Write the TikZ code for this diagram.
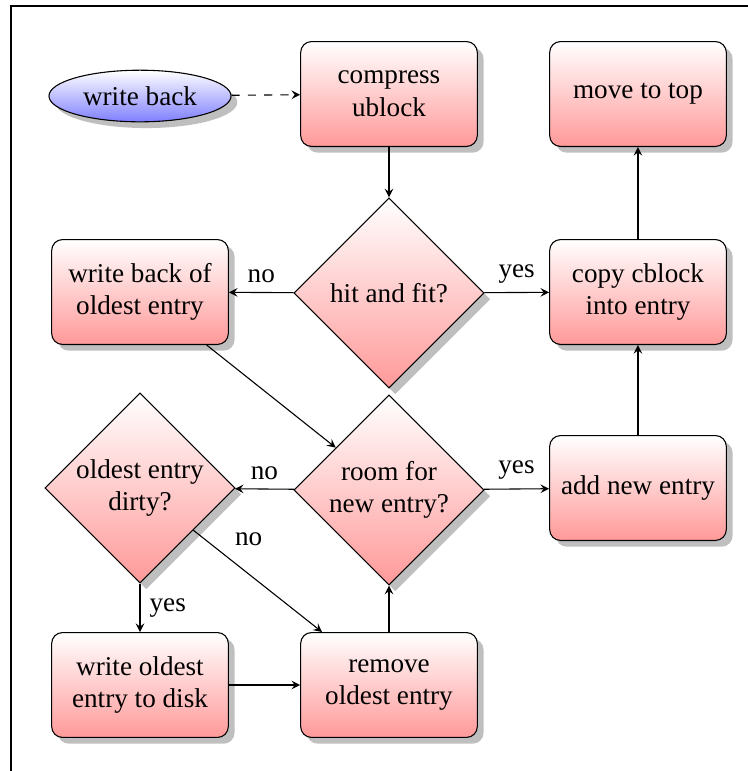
\documentclass[tikz,border=0pt]{standalone}
\usepackage{fontspec}
\setmainfont{Liberation Serif}
\usetikzlibrary{shapes.geometric,shadows,arrows}

\tikzset{
  stepbox/.style={rectangle, rounded corners, draw, align=center,
    minimum width=65pt, minimum height=38.6pt, inner sep=2pt,
    top color=white, bottom color=red!40, drop shadow},
  decision/.style={diamond, draw, align=center, aspect=1,
    minimum width=70pt, minimum height=70pt, inner sep=0pt,
    top color=white, bottom color=red!40, drop shadow},
  startnode/.style={ellipse, draw, inner sep=0pt,
    minimum width=67pt, minimum height=19pt,
    top color=white, bottom color=blue!50, drop shadow},
  flow/.style={draw, -stealth},
  frameline/.style={draw, line width=0.4pt}
}

\begin{document}
\begin{tikzpicture}[x=0.368pt, y=-0.368pt]
  \useasboundingbox (0,0) rectangle (748,771);
  % frame edges
  \draw[frameline] (11,771) -- (11,6) -- (748,6);

  % nodes
  \node[startnode] (wb) at (140,96) {write back};
  \node[stepbox] (compress) at (389,94) {compress\\ublock};
  \node[stepbox] (movetop) at (638,94) {move to top};
  \node[stepbox] (wbo) at (140,292) {write back of\\oldest entry};
  \node[decision] (hit) at (389,293) {hit and fit?};
  \node[stepbox] (copy) at (638,292) {copy cblock\\into entry};
  \node[decision] (dirty) at (140,488) {oldest entry\\dirty?};
  \node[decision] (room) at (389,490) {room for\\new entry?};
  \node[stepbox] (add) at (638,488) {add new entry};
  \node[stepbox] (wdisk) at (140,685) {write oldest\\entry to disk};
  \node[stepbox] (remove) at (389,685) {remove\\oldest entry};

  % connectors
  \draw[flow, dashed] (wb) -- (compress);
  \draw[flow] (compress) -- (hit);
  \draw[flow] (hit) -- node[above] {no} (wbo);
  \draw[flow] (hit) -- node[above] {yes} (copy);
  \draw[flow] (wbo) -- (room);
  \draw[flow] (room) -- node[above] {no} (dirty);
  \draw[flow] (room) -- node[above] {yes} (add);
  \draw[flow] (dirty) -- node[right] {yes} (wdisk);
  \draw[flow] (dirty) -- node[pos=0.25, above right] {no} (remove);
  \draw[flow] (wdisk) -- (remove);
  \draw[flow] (remove) -- (room);
  \draw[flow] (add) -- (copy);
  \draw[flow] (copy) -- (movetop);
\end{tikzpicture}
\end{document}
